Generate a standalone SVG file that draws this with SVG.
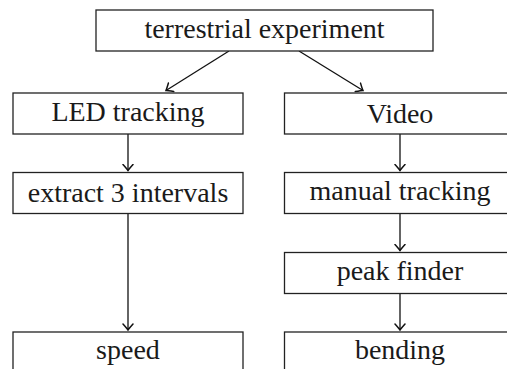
<svg xmlns="http://www.w3.org/2000/svg" width="507" height="369" viewBox="0 0 507 369">
<style>
.box{fill:#fff;stroke:#222;stroke-width:1.3}
.lbl{font-size:28px;fill:#1a1a1a;text-anchor:middle}
.con{fill:none;stroke:#111;stroke-width:1.3}
</style>
<defs>
<marker id="arr" markerUnits="userSpaceOnUse" markerWidth="14" markerHeight="14" refX="0" refY="0" viewBox="-7 -7 14 14" orient="auto">
<path d="M-6,-5 Q-1.5,-1 0,0 Q-1.5,1 -6,5" fill="none" stroke="#111" stroke-width="1.5" stroke-linecap="round"/>
</marker>
</defs>
<rect width="507" height="369" fill="#fff"/>
<g id="connectors">
<line class="con" x1="229" y1="51" x2="166" y2="90.5" marker-end="url(#arr)"/>
<line class="con" x1="299" y1="51" x2="363" y2="90.5" marker-end="url(#arr)"/>
<line class="con" x1="128" y1="134" x2="128" y2="170.5" marker-end="url(#arr)"/>
<line class="con" x1="400" y1="134" x2="400" y2="170.5" marker-end="url(#arr)"/>
<line class="con" x1="128" y1="213.5" x2="128" y2="330" marker-end="url(#arr)"/>
<line class="con" x1="400" y1="213.5" x2="400" y2="250.5" marker-end="url(#arr)"/>
<line class="con" x1="400" y1="293.5" x2="400" y2="330" marker-end="url(#arr)"/>
</g>
<g font-family="'Liberation Serif', 'DejaVu Serif', serif">
<g id="terrestrial">
<rect class="box" x="96" y="10" width="337" height="41"/>
<text class="lbl" x="264.5" y="37.5">terrestrial experiment</text>
</g>
<g id="led">
<rect class="box" x="13" y="93" width="230" height="41"/>
<text class="lbl" x="128" y="120.5">LED tracking</text>
</g>
<g id="video">
<rect class="box" x="284.5" y="93" width="232" height="41"/>
<text class="lbl" x="400" y="122.5">Video</text>
</g>
<g id="extract">
<rect class="box" x="13" y="172.5" width="230" height="41"/>
<text class="lbl" x="128" y="201.8">extract 3 intervals</text>
</g>
<g id="manual">
<rect class="box" x="284.5" y="172.5" width="232" height="41"/>
<text class="lbl" x="400" y="200">manual tracking</text>
</g>
<g id="peak">
<rect class="box" x="284.5" y="252.5" width="232" height="41"/>
<text class="lbl" x="400" y="280">peak finder</text>
</g>
<g id="speed">
<rect class="box" x="13" y="332" width="230" height="41"/>
<text class="lbl" x="128" y="359">speed</text>
</g>
<g id="bending">
<rect class="box" x="284.5" y="332" width="232" height="41"/>
<text class="lbl" x="400" y="359">bending</text>
</g>
</g>
</svg>
